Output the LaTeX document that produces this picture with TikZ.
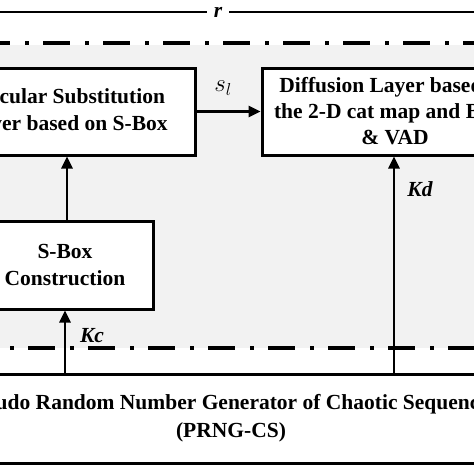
\documentclass[tikz,border=0pt]{standalone}
\usepackage{fontspec}
\setmainfont{Liberation Serif}
\usetikzlibrary{arrows.meta}
\begin{document}
\begin{tikzpicture}[x=1pt,y=-1pt,
  blk/.style={draw,line width=3pt,fill=white,align=center,inner sep=0pt,
    font=\bfseries\fontsize{21.5}{27}\selectfont},
  conn/.style={line width=2.6pt,-{Triangle[length=12pt,width=11pt]}},
  lbl/.style={font=\bfseries\itshape\fontsize{21.5}{25}\selectfont,inner sep=1pt},
  dashdot/.style={line width=3.8pt,dash pattern=on 27pt off 15pt on 3.5pt off 14.5pt}]
\definecolor{bggray}{HTML}{F2F2F2}
\useasboundingbox (0,0) rectangle (474,474);
\clip (0,0) rectangle (474,474);
\fill[white] (0,0) rectangle (474,474);
\fill[bggray] (0,45) rectangle (474,348);
% top r line
\node[lbl,inner xsep=7pt,anchor=base] (r) at (218,17) {r};
\coordinate (rl) at (0,12);
\coordinate (rr) at (474,12);
\draw[line width=2.2pt] (rl) -- (rl -| r.west);
\draw[line width=2.2pt] (rr -| r.east) -- (rr);
% dash-dot lines
\draw[dashdot,dash phase=17pt] (0,43) -- (474,43);
\draw[dashdot,dash phase=32pt] (0,348) -- (474,348);
% blocks
\node[blk,minimum width=256pt,minimum height=87pt] (css) at (67,111.5)
  {Circular Substitution\\Layer based on S-Box};
\node[blk,minimum width=176pt,minimum height=88pt] (sbox) at (65,265)
  {S-Box\\Construction};
\node[blk,minimum width=266pt,minimum height=87pt,font=\bfseries\fontsize{21.5}{26}\selectfont] (diff) at (395,111.5)
  {Diffusion Layer based on\\the 2-D cat map and BWT\\\& VAD};
\node[blk,minimum width=600pt,minimum height=89pt,font=\bfseries\fontsize{21.5}{28}\selectfont] (prng) at (231,418.5)
  {Pseudo Random Number Generator of Chaotic Sequences\\(PRNG-CS)};
% connectors
\draw[conn] (sbox.north -| 67,0) -- (css.south -| 67,0);
\draw[conn] (prng.north -| 65,0) -- (sbox.south -| 65,0);
\draw[conn] (prng.north -| 394,0) -- (diff.south -| 394,0);
\draw[conn] (css.east) -- (diff.west);
% labels
\node (sl) at (223,88) {\fontsize{24}{28}\selectfont$s_l$};
\node[lbl] (kc) at (92,336) {Kc};
\node[lbl] (kd) at (420,189) {Kd};
\end{tikzpicture}
\end{document}
